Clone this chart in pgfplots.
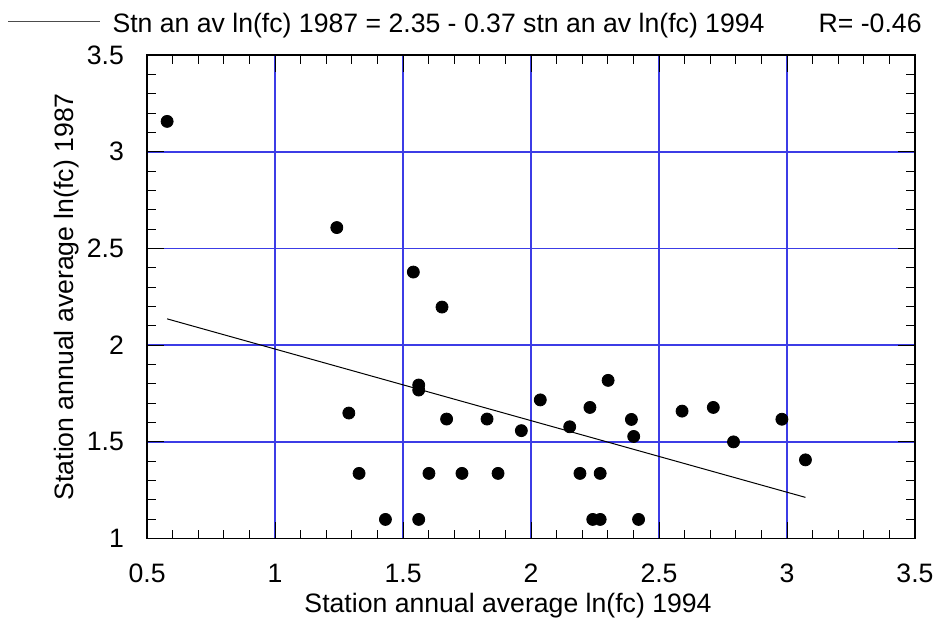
\documentclass[border=0pt]{standalone}
\usepackage{fontspec}
\setmainfont{Liberation Sans}
\usepackage{pgfplots}
\pgfplotsset{compat=1.18}
\definecolor{gridblue}{RGB}{60,60,230}
\begin{document}
\fontsize{13.3}{15}\selectfont
\begin{tikzpicture}
\begin{axis}[
  name=ax,
  scale only axis, width=383.5pt, height=241.5pt,
  xmin=0.5, xmax=3.5, ymin=1, ymax=3.5,
  xtick={0.5,1,1.5,2,2.5,3,3.5},
  ytick={1,1.5,2,2.5,3,3.5},
  minor x tick num=4, minor y tick num=4,
  tick align=inside,
  xtick pos=both, ytick pos=both,
  major tick length=8.5pt, minor tick length=4.5pt,
  tick style={draw=black, line width=0.5pt},
  xmajorgrids, ymajorgrids,
  major grid style={draw=gridblue, line width=0.8pt},
  axis line style={line width=0.75pt},
  /pgf/number format/assume math mode=true,
  ticklabel style={font=\fontsize{13.3}{15}\selectfont},
  xticklabel style={yshift=-8pt},
  yticklabel style={xshift=-7pt},
  xlabel={Station annual average ln(fc) 1994},
  ylabel={Station annual average ln(fc) 1987},
  label style={font=\fontsize{13.3}{15}\selectfont},
  xlabel style={yshift=4pt, xshift=-11.5pt},
  ylabel style={at={(axis description cs:-0.0965,0.5)}, anchor=base},
]
\addplot[black, line width=0.5pt] coordinates {(0.578,2.136) (3.072,1.213)};
\addplot[only marks, mark=*, mark size=3pt, black] coordinates {
(0.578,3.157) (1.241,2.608) (1.540,2.378) (1.652,2.197)
(1.288,1.649) (1.561,1.794) (1.561,1.768) (1.670,1.618)
(1.828,1.618) (1.962,1.558) (2.036,1.717) (2.151,1.578)
(2.230,1.678) (2.301,1.818) (2.392,1.616) (2.401,1.528)
(2.590,1.659) (2.712,1.678) (2.791,1.500) (2.980,1.617)
(3.072,1.407)
(1.328,1.337) (1.601,1.337) (1.730,1.337) (1.871,1.337) (2.191,1.337) (2.270,1.337)
(1.431,1.099) (1.561,1.099) (2.241,1.099) (2.270,1.099) (2.420,1.099)
};
\end{axis}
\draw[gray!60!black, line width=0.6pt] ([xshift=-69.5pt,yshift=16.7pt]ax.north west) -- ([xshift=-23.5pt,yshift=16.7pt]ax.north west);
\node[anchor=base west, inner sep=0pt] at ([xshift=-17.5pt,yshift=11.5pt]ax.north west) {Stn an av ln(fc) 1987 = 2.35 - 0.37 stn an av ln(fc) 1994};
\node[anchor=base east, inner sep=0pt] at ([xshift=3.5pt,yshift=11.5pt]ax.north east) {R= -0.46};
\pgfresetboundingbox
\path ([xshift=-73.5pt,yshift=-40.5pt]ax.south west) rectangle ([xshift=10pt,yshift=27.5pt]ax.north east);
\end{tikzpicture}
\end{document}
